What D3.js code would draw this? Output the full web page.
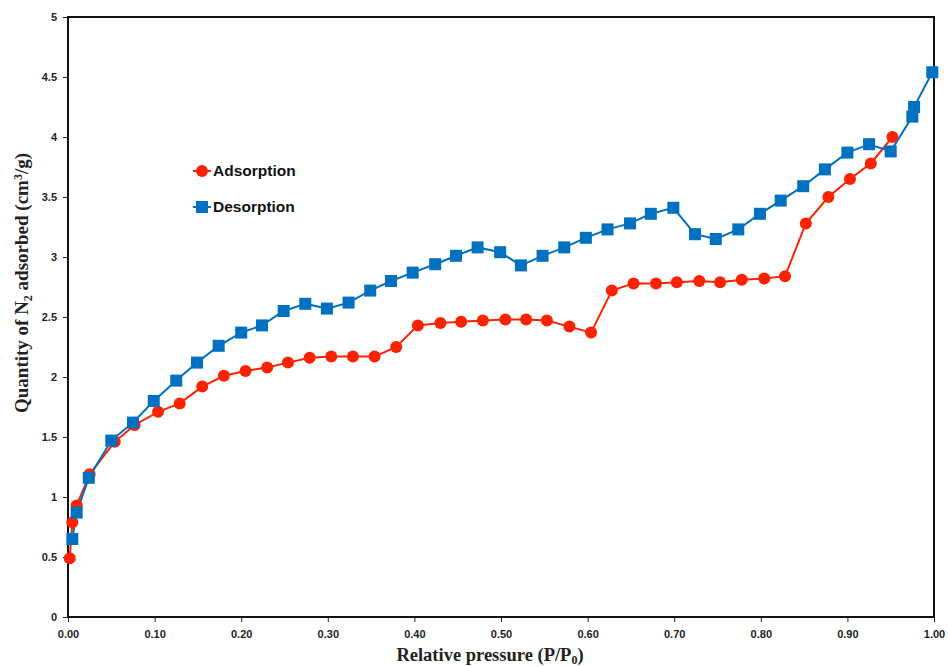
<!DOCTYPE html>
<html><head><meta charset="utf-8">
<script src="https://cdn.jsdelivr.net/npm/d3@7"></script>
<style>body{margin:0;background:#fff}svg{display:block}</style>
</head><body>
<svg id="c" width="948" height="667"></svg>
<script>
const adsX = [0.002,0.005,0.010,0.025,0.054,0.077,0.104,0.129,0.155,0.180,0.205,0.230,0.254,0.279,0.304,0.329,0.354,0.379,0.404,0.430,0.454,0.479,0.505,0.529,0.553,0.579,0.604,0.628,0.653,0.679,0.703,0.729,0.753,0.778,0.804,0.828,0.852,0.878,0.903,0.927,0.952];
const adsY = [0.49,0.79,0.93,1.19,1.46,1.60,1.71,1.78,1.92,2.01,2.05,2.08,2.12,2.16,2.17,2.17,2.17,2.25,2.43,2.45,2.46,2.47,2.48,2.48,2.47,2.42,2.37,2.72,2.78,2.78,2.79,2.80,2.79,2.81,2.82,2.84,3.28,3.50,3.65,3.78,4.00];
const desX = [0.005,0.010,0.024,0.050,0.075,0.099,0.125,0.149,0.174,0.200,0.224,0.249,0.274,0.299,0.324,0.349,0.373,0.398,0.424,0.448,0.473,0.499,0.523,0.548,0.573,0.598,0.623,0.649,0.673,0.699,0.724,0.748,0.774,0.799,0.823,0.849,0.874,0.900,0.925,0.950,0.975,0.977,0.998];
const desY = [0.65,0.87,1.16,1.47,1.62,1.80,1.97,2.12,2.26,2.37,2.43,2.55,2.61,2.57,2.62,2.72,2.80,2.87,2.94,3.01,3.08,3.04,2.93,3.01,3.08,3.16,3.23,3.28,3.36,3.41,3.19,3.15,3.23,3.36,3.47,3.59,3.73,3.87,3.94,3.88,4.17,4.25,4.54];
const xTicks = [0,0.1,0.2,0.3,0.4,0.5,0.6,0.7,0.8,0.9,1.0];
const yTicks = [0,0.5,1,1.5,2,2.5,3,3.5,4,4.5,5];
const seriesNames = ["Adsorption","Desorption"];

const svg = d3.select("#c");
const L=68,R=934,T=17,B=617;
const x = d3.scaleLinear().domain([0,1]).range([L,R]);
const y = d3.scaleLinear().domain([0,5]).range([B,T]);
const red="#FF2200", blue="#0070C0";

// axes
const xa = svg.append("g").attr("transform",`translate(0,${B})`)
  .call(d3.axisBottom(x).tickValues(xTicks).tickFormat(d3.format(".2f")).tickSize(5).tickPadding(8));
const ya = svg.append("g").attr("transform",`translate(${L},0)`)
  .call(d3.axisLeft(y).tickValues(yTicks).tickFormat(d=>String(d)).tickSize(5).tickPadding(6));
[xa,ya].forEach(a=>{
  a.select(".domain").remove();
  a.selectAll("line").attr("stroke","#222").attr("stroke-width",1);
  a.selectAll("text").attr("font-family","Liberation Sans, Arial, sans-serif").attr("font-weight","bold").attr("font-size","11px").attr("fill","#222");
});
svg.append("rect").attr("x",L).attr("y",T).attr("width",R-L).attr("height",B-T)
  .attr("fill","none").attr("stroke","#111").attr("stroke-width",2);

const line = d3.line().x(d=>x(d[0])).y(d=>y(d[1]));
const ads = adsX.map((v,i)=>[v,adsY[i]]);
const des = desX.map((v,i)=>[v,desY[i]]);

svg.append("path").datum(ads).attr("d",line).attr("fill","none").attr("stroke",red).attr("stroke-width",2);
svg.append("path").datum(des).attr("d",line).attr("fill","none").attr("stroke",blue).attr("stroke-width",2);
svg.append("g").selectAll("circle").data(ads).join("circle")
  .attr("cx",d=>x(d[0])).attr("cy",d=>y(d[1])).attr("r",6).attr("fill",red);
svg.append("g").selectAll("rect").data(des).join("rect")
  .attr("x",d=>x(d[0])-6).attr("y",d=>y(d[1])-6).attr("width",12).attr("height",12).attr("fill",blue);

// legend
const lg = svg.append("g");
[[red,171],[blue,207]].forEach(([c,yy],i)=>{
  lg.append("line").attr("x1",193).attr("x2",211).attr("y1",yy).attr("y2",yy).attr("stroke",c).attr("stroke-width",2);
  if(i===0) lg.append("circle").attr("cx",202).attr("cy",yy).attr("r",6).attr("fill",c);
  else lg.append("rect").attr("x",196).attr("y",yy-6).attr("width",12).attr("height",12).attr("fill",c);
  lg.append("text").attr("x",213).attr("y",yy+5).text(seriesNames[i])
    .attr("font-family","Liberation Sans, Arial, sans-serif").attr("font-weight","bold").attr("font-size","15.5px").attr("fill","#111");
});

// axis titles
const xt = svg.append("text").attr("x",490).attr("y",661).attr("text-anchor","middle")
  .attr("font-family","Liberation Serif, Times New Roman, serif").attr("font-weight","bold").attr("font-size","18.5px").attr("fill","#222");
xt.append("tspan").text("Relative pressure (P/P");
xt.append("tspan").text("0").attr("font-size","12px").attr("dy",3);
xt.append("tspan").text(")").attr("dy",-3);

const yt = svg.append("text").attr("transform",`translate(28,283) rotate(-90)`).attr("text-anchor","middle")
  .attr("font-family","Liberation Serif, Times New Roman, serif").attr("font-weight","bold").attr("font-size","19px").attr("fill","#222");
yt.append("tspan").text("Quantity of N");
yt.append("tspan").text("2").attr("font-size","12px").attr("dy",4);
yt.append("tspan").text(" adsorbed (cm").attr("dy",-4);
yt.append("tspan").text("3").attr("font-size","12px").attr("dy",-6);
yt.append("tspan").text("/g)").attr("dy",6);
</script>
</body></html>
